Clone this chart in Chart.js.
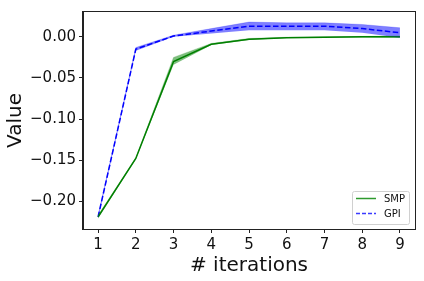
<!DOCTYPE html>
<html>
<head>
<meta charset="utf-8">
<script src="https://cdn.jsdelivr.net/npm/chart.js@4"></script>
<style>
  html, body { margin: 0; padding: 0; background: #fff; }
  #wrap { width: 424px; height: 281px; }
</style>
</head>
<body>
<div id="wrap"><canvas id="myChart" width="424" height="281"></canvas></div>
<script>
// data
const iterations = [1, 2, 3, 4, 5, 6, 7, 8, 9]
const smpMean = [-0.219, -0.148, -0.030, -0.009, -0.003, -0.001, -0.0005, 0.000, 0.000]
const smpLow  = [-0.221, -0.149, -0.034, -0.010, -0.004, -0.0015, -0.001, -0.0008, -0.001]
const smpHigh = [-0.217, -0.147, -0.025, -0.008, -0.002, -0.0005, 0.000, 0.0005, 0.001]
const gpiMean = [-0.219, -0.015, 0.001, 0.007, 0.013, 0.013, 0.013, 0.010, 0.005]
const gpiLow  = [-0.221, -0.017, 0.000, 0.004, 0.008, 0.008, 0.008, 0.005, -0.001]
const gpiHigh = [-0.217, -0.013, 0.002, 0.010, 0.018, 0.017, 0.017, 0.015, 0.011]
const yTicks = [0.00, -0.05, -0.10, -0.15, -0.20]

const pts = arr => arr.map((v, i) => ({ x: iterations[i], y: v }))

// border box + legend inside the axes
const boxAndLegend = {
    id: 'boxAndLegend',
    afterDraw(chart) {
        const c = chart.ctx, a = chart.chartArea
        c.save()
        c.strokeStyle = '#222'
        c.lineWidth = 1
        c.strokeRect(Math.round(a.left) - 0.5, Math.round(a.top) - 0.5, Math.round(a.right - a.left) + 1, Math.round(a.bottom - a.top) + 1)

        const x = 352, y = 191, w = 57, h = 33
        c.fillStyle = 'rgba(255,255,255,0.85)'
        c.strokeStyle = '#d0d0d0'
        c.beginPath()
        c.roundRect(x + 0.5, y + 0.5, w, h, 2)
        c.fill()
        c.stroke()
        c.lineWidth = 1.5
        c.strokeStyle = '#2e9a2e'
        c.beginPath(); c.moveTo(356, 198.5); c.lineTo(376, 198.5); c.stroke()
        c.strokeStyle = '#3b3bff'
        c.setLineDash([4, 2])
        c.beginPath(); c.moveTo(356, 213.5); c.lineTo(376, 213.5); c.stroke()
        c.setLineDash([])
        c.fillStyle = '#111'
        c.font = '10px "DejaVu Sans"'
        c.textBaseline = 'middle'
        c.fillText('SMP', 384, 199)
        c.fillText('GPI', 384, 214)
        c.restore()
    }
}

const ctx = document.getElementById('myChart').getContext('2d')
const myChart = new Chart(ctx, {
    type: 'line',
    data: {
        datasets: [
            { data: pts(smpLow), borderWidth: 0, pointRadius: 0, fill: false, borderColor: 'rgba(0,128,0,0)' },
            { data: pts(smpHigh), borderWidth: 0.5, pointRadius: 0, fill: '-1', borderColor: 'rgba(0,128,0,0.4)', backgroundColor: 'rgba(0,128,0,0.5)' },
            { data: pts(gpiLow), borderWidth: 0, pointRadius: 0, fill: false, borderColor: 'rgba(0,0,255,0)' },
            { data: pts(gpiHigh), borderWidth: 0.5, pointRadius: 0, fill: '-1', borderColor: 'rgba(0,0,255,0.4)', backgroundColor: 'rgba(0,0,255,0.5)' },
            { label: 'SMP', data: pts(smpMean), borderColor: '#008000', borderWidth: 1.5, pointRadius: 0, fill: false },
            { label: 'GPI', data: pts(gpiMean), borderColor: '#0000ff', borderWidth: 1.5, borderDash: [5.5, 2.5], pointRadius: 0, fill: false }
        ]
    },
    options: {
        responsive: false,
        animation: false,
        layout: { padding: { top: 10, right: 9, left: 4, bottom: 3 } },
        plugins: { legend: { display: false }, tooltip: { enabled: false } },
        scales: {
            x: {
                type: 'linear',
                min: 0.6,
                max: 9.4,
                afterBuildTicks: s => { s.ticks = iterations.map(v => ({ value: v })) },
                afterFit: s => { s.height = 49 },
                grid: { drawOnChartArea: false, tickLength: 4, tickColor: '#222' },
                border: { color: '#222' },
                ticks: { color: '#111', font: { family: 'DejaVu Sans', size: 15 }, padding: 3, maxRotation: 0 },
                title: { display: true, text: '# iterations', color: '#111', font: { family: 'DejaVu Sans', size: 20 }, padding: { top: 0, bottom: 0 } }
            },
            y: {
                min: -0.2337,
                max: 0.0302,
                afterBuildTicks: s => { s.ticks = yTicks.map(v => ({ value: v })) },
                afterFit: s => { s.width = 79 },
                grid: { drawOnChartArea: false, tickLength: 4, tickColor: '#222' },
                border: { color: '#222' },
                ticks: {
                    color: '#111',
                    font: { family: 'DejaVu Sans', size: 15 },
                    padding: 3,
                    callback: v => v.toFixed(2).replace('-', '\u2212')
                },
                title: { display: true, text: 'Value', color: '#111', font: { family: 'DejaVu Sans', size: 20 }, padding: { top: 0, bottom: 0 } }
            }
        }
    },
    plugins: [boxAndLegend]
})
</script>
</body>
</html>
